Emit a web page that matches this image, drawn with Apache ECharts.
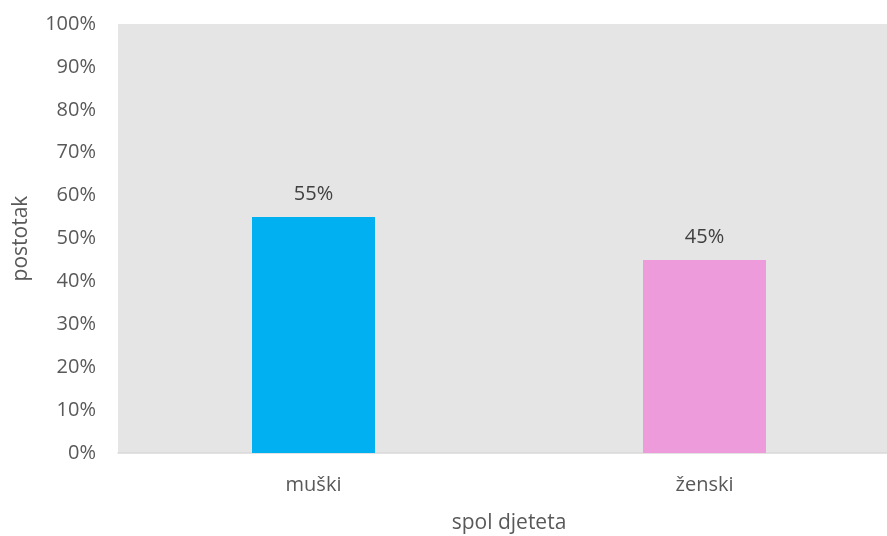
<!DOCTYPE html>
<html>
<head>
<meta charset="utf-8">
<script src="https://cdn.jsdelivr.net/npm/echarts@6/dist/echarts.min.js"></script>
<style>
html,body{margin:0;padding:0;background:#fff;}
#chart{width:887px;height:536px;}
</style>
</head>
<body>
<div id="chart"></div>
<script>
// podaci
var categories=['muški','ženski'];
var values=[55,45];
var barColors=['#00b0f0','#ee9bdc'];
var yTicks=[0,10,20,30,40,50,60,70,80,90,100];

var myChart=echarts.init(document.getElementById('chart'));
var font='"Open Sans", "Noto Sans", sans-serif';

var option={
	animation:false,
	grid:{
		left:118,
		top:24,
		width:782,
		height:429,
		outerBoundsMode:'none',
		containLabel:false,
		show:true,
		backgroundColor:'#e5e5e5',
		borderWidth:0
	},
	xAxis:{
		type:'category',
		data:categories,
		name:'spol djeteta',
		nameLocation:'middle',
		nameGap:60,
		nameTextStyle:{color:'#595959',fontSize:21,fontFamily:font},
		axisTick:{show:false},
		axisLine:{lineStyle:{color:'#d9d9d9',width:1.5}},
		axisLabel:{color:'#595959',fontSize:20,fontFamily:font,margin:22}
	},
	yAxis:{
		type:'value',
		min:yTicks[0],
		max:yTicks[yTicks.length-1],
		interval:10,
		name:'postotak',
		nameLocation:'middle',
		nameGap:86,
		nameTextStyle:{color:'#595959',fontSize:21,fontFamily:font},
		splitLine:{show:false},
		axisLine:{show:false},
		axisTick:{show:false},
		axisLabel:{
			color:'#595959',
			fontSize:20,
			fontFamily:font,
			margin:22,
			formatter:function(v){return v+'%';}
		}
	},
	series:[{
		type:'bar',
		barWidth:123,
		data:values.map(function(v,i){
			return {value:v,itemStyle:{color:barColors[i]}};
		}),
		label:{
			show:true,
			position:'top',
			distance:13,
			color:'#404040',
			fontSize:20,
			fontFamily:font,
			formatter:function(p){return p.value+'%';}
		}
	}]
};
myChart.setOption(option);
</script>
</body>
</html>
